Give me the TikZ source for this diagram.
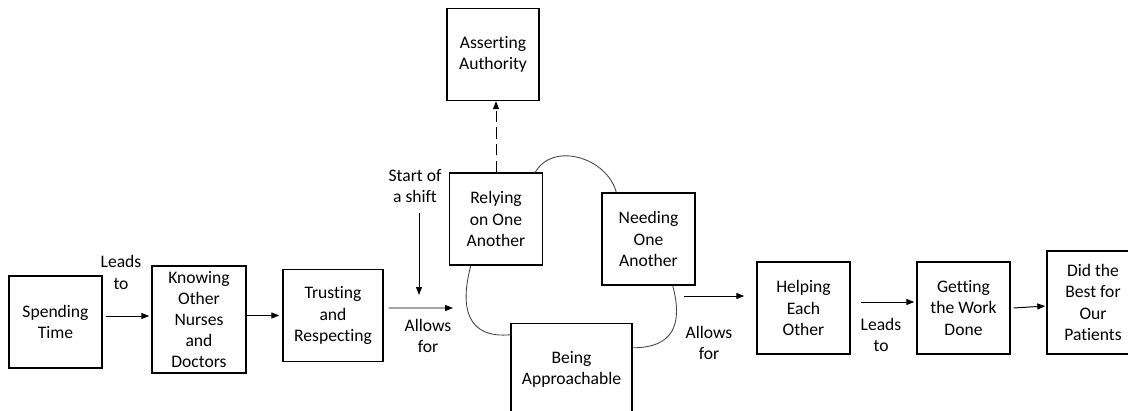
\documentclass[tikz,border=0pt]{standalone}
\usepackage{fontspec}
\setmainfont{Carlito}[Ligatures=NoCommon]
\usetikzlibrary{arrows.meta,calc}

\begin{document}
\begin{tikzpicture}[x=0.025cm,y=0.025cm,
    font=\fontsize{12.5}{15}\selectfont,
    box/.style={draw,line width=1pt,align=center,inner sep=1pt,
      minimum width=2.325cm,minimum height=2.3cm},
    lbl/.style={align=center},
    arr/.style={-{Triangle[length=2mm,width=1.5mm]},line width=0.7pt},
    dashline/.style={arr,dash pattern=on 2.8mm off 1.4mm},
    loopline/.style={line width=0.6pt,black!75}]
      \useasboundingbox (0,0) rectangle (1128,410);

      % boxes
      \node[box] (spend) at (55.5,88) {Spending\\Time};
      \node[box,minimum width=2.35cm,minimum height=2.675cm] (know) at (199,90.5) {Knowing\\Other\\Nurses\\and\\Doctors};
      \node[box,minimum width=2.5cm] (trust) at (333,94.5) {Trusting\\and\\Respecting};
      \node[box,minimum width=2.3cm] (assert) at (493,355.5) {Asserting\\Authority};
      \node[box] (rely) at (496,191) {Relying\\on One\\Another};
      \node[box] (need) at (648.5,171) {Needing\\One\\Another};
      \node[box,minimum width=3.025cm] (approach) at (571.5,40.5) {Being\\Approachable};
      \node[box] (help) at (803.5,102) {Helping\\Each\\Other};
      \node[box] (work) at (963.5,102) {Getting\\the Work\\Done};
      \node[box,minimum width=2.3cm,minimum height=2.575cm] (best) at (1093,107.5) {Did the\\Best for\\Our\\Patients};

      % labels
      \node[lbl] (leads1) at (121,137.5) {Leads\\to};
      \node[lbl] (shift) at (415,224) {Start of\\a shift};
      \node[lbl] (allows1) at (428,74) {Allows\\for};
      \node[lbl] (allows2) at (709,67.5) {Allows\\for};
      \node[lbl] (leads2) at (881,75) {Leads\\to};

      \coordinate (cyclein) at (453,102);
      \coordinate (shiftend) at (419,115);
      \coordinate (needout) at (684,114);

      % arrows
      \draw[arr] ($(spend.east)+(3,6)$) -- ($(spend.east -| know.west)+(-2,6)$);
      \draw[arr] (know.east |- trust.west) -- ($(trust.west)+(-3,0)$);
      \draw[arr] ($(trust.east)+(5,7.5)$) -- (cyclein);
      \draw[arr,shorten <=4pt] (shift.south -| shiftend) -- (shiftend);
      \draw[dashline] (rely.north) -- (rely.north |- assert.south);
      \draw[arr] (needout) -- ($(help.west |- needout)+(-12,0)$);
      \draw[arr] ($(help.east)+(10,6)$) -- ($(work.west)+(-2,6)$);
      \draw[arr] ($(work.east)+(3,0)$) -- ($(best.west)+(-1,-3.5)$);

      % the cycle
      \draw[loopline] ($(rely.north east)+(-8,0)$) to[out=60,in=105,looseness=1.1] ($(need.north west)+(15,0)$);
      \draw[loopline] ($(rely.south west)+(22,0)$) to[out=255,in=185,looseness=1.4] ($(approach.north west)+(0,-12)$);
      \draw[loopline] ($(need.south east)+(-23,0)$) to[out=285,in=0,looseness=1.4] ($(approach.north east)+(0,-25)$);
\end{tikzpicture}
\end{document}
